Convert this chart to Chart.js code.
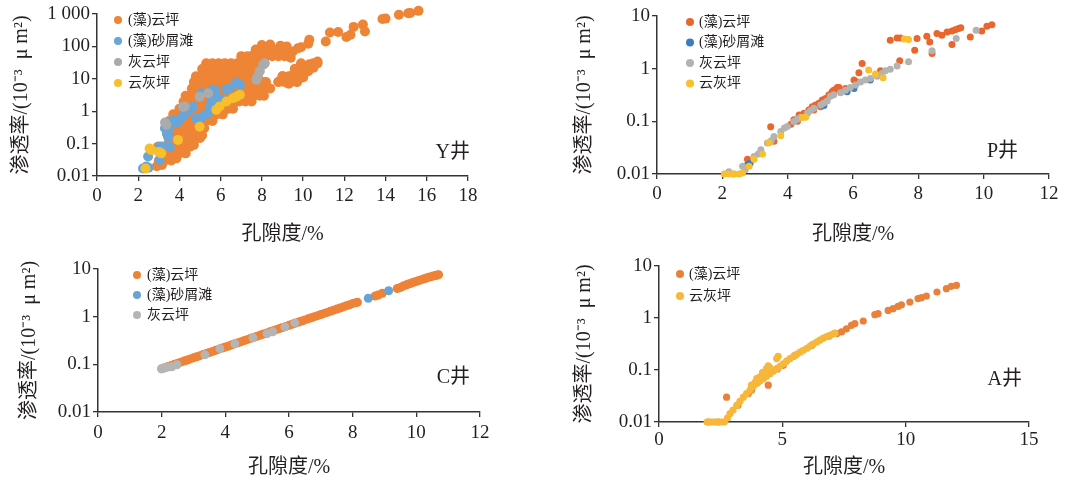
<!DOCTYPE html>
<html>
<head>
<meta charset="utf-8">
<script src="https://cdn.jsdelivr.net/npm/chart.js@4.4.1/dist/chart.umd.min.js"></script>
<style>
body { margin: 0; background: #fff; width: 1065px; height: 481px; position: relative; overflow: hidden; }
canvas { position: absolute; }
</style>
</head>
<body>
<canvas id="grafico-y" width="530" height="250" style="left:0;top:0"></canvas>
<canvas id="grafico-p" width="535" height="250" style="left:530px;top:0"></canvas>
<canvas id="grafico-c" width="530" height="231" style="left:0;top:250px"></canvas>
<canvas id="grafico-a" width="535" height="231" style="left:530px;top:250px"></canvas>
<script>
// nomes das fácies
const facies = ['(藻)云坪', '(藻)砂屑滩', '灰云坪', '云灰坪'];

// eixos
const ticksLog6 = [0.01, 0.1, 1, 10, 100, 1000];
const rotulosLog6 = ['0.01', '0.1', '1', '10', '100', '1 000'];
const ticksLog4 = [0.01, 0.1, 1, 10];
const rotulosLog4 = ['0.01', '0.1', '1', '10'];
const tituloX = '孔隙度/%';
const tituloY = '渗透率/(10⁻³  μ m²)';

// ---- Y井 ----
const yOrange = [
    [15.6, 1250], [15.2, 1070], [15.1, 1050], [14.65, 950], [14.0, 720], [13.85, 700], [12.9, 470], [13.0, 290],
    [12.45, 400], [12.3, 230], [12.1, 195], [11.7, 280], [11.3, 270], [11.1, 142], [10.3, 160], [10.25, 120],
    [9.9, 94], [9.75, 88],
    [9.9, 19], [10.2, 24], [10.5, 30], [10.7, 34], [10.25, 17], [9.6, 20], [9.4, 12], [9.1, 9], [8.8, 8],
    [9.3, 7], [9.6, 9.5], [9.0, 12], [9.7, 8], [10.0, 11],
    [8.0, 110], [8.4, 115], [8.9, 105], [9.2, 100],
    [7.7, 80], [8.0, 80], [8.3, 85], [8.6, 80], [8.9, 80], [9.2, 75], [9.5, 70],
    [7.0, 50], [7.3, 50], [7.6, 55], [7.9, 50], [8.2, 50], [8.5, 50], [8.8, 50], [9.1, 50], [9.4, 45],
    [5.3, 30], [5.6, 30], [5.9, 30], [6.2, 30], [6.5, 30], [6.8, 30], [7.1, 30], [7.4, 30], [7.7, 30], [8.0, 30],
    [9.9, 30], [10.3, 28], [10.7, 30],
    [5.1, 20], [5.4, 20], [5.7, 20], [6.0, 20], [6.3, 20], [6.6, 20], [6.9, 20], [7.2, 20], [7.5, 20], [7.7, 20],
    [9.6, 20], [9.9, 19], [10.2, 20], [10.5, 22],
    [4.8, 12], [5.1, 12], [5.4, 12], [5.7, 12], [6.0, 12], [6.3, 12], [6.6, 12], [6.9, 12], [7.2, 12], [7.5, 12],
    [7.8, 12], [9.0, 12], [9.3, 12], [9.6, 12], [10.0, 12],
    [4.7, 8], [5.0, 8], [5.3, 8], [5.6, 8], [5.9, 8], [6.2, 8], [6.5, 8], [6.8, 8], [7.1, 8], [7.4, 8], [7.7, 8],
    [8.0, 8], [8.2, 8], [8.8, 8], [9.1, 8], [9.4, 8], [9.7, 8],
    [4.6, 5], [4.9, 5], [5.2, 5], [5.5, 5], [5.8, 5], [6.1, 5], [6.4, 5], [6.7, 5], [7.0, 5], [7.3, 5], [7.6, 5],
    [7.9, 5], [8.2, 5], [8.4, 5],
    [4.3, 3], [4.6, 3], [4.9, 3], [5.2, 3], [5.5, 3], [5.8, 3], [6.1, 3], [6.4, 3], [6.7, 3], [7.0, 3], [7.3, 3],
    [7.6, 3], [7.9, 3], [8.1, 3],
    [4.2, 2], [4.5, 2], [4.8, 2], [5.1, 2], [5.4, 2], [5.7, 2], [6.0, 2], [6.3, 2], [6.6, 2], [6.9, 2], [7.2, 2], [7.5, 2],
    [4.0, 1.2], [4.3, 1.2], [4.6, 1.2], [4.9, 1.2], [5.2, 1.2], [5.5, 1.2], [5.8, 1.2], [6.1, 1.2], [6.4, 1.2], [6.6, 1.2],
    [3.7, 0.8], [4.0, 0.8], [4.3, 0.8], [4.6, 0.8], [4.9, 0.8], [5.2, 0.8], [5.5, 0.8], [5.8, 0.8], [6.1, 0.8],
    [3.5, 0.5], [3.8, 0.5], [4.1, 0.5], [4.4, 0.5], [4.7, 0.5], [5.0, 0.5], [5.3, 0.5], [5.6, 0.5],
    [3.7, 0.3], [4.0, 0.3], [4.3, 0.3], [4.6, 0.3], [4.9, 0.3], [5.2, 0.3],
    [3.4, 0.2], [3.7, 0.2], [4.0, 0.2], [4.3, 0.2], [4.6, 0.2], [4.9, 0.2], [5.1, 0.18],
    [3.5, 0.12], [3.8, 0.12], [4.1, 0.12], [4.4, 0.12], [4.7, 0.12], [5.0, 0.15],
    [2.95, 0.08], [3.6, 0.08], [3.9, 0.08], [4.2, 0.08], [4.5, 0.08], [4.7, 0.09],
    [3.4, 0.05], [3.7, 0.05], [4.0, 0.05], [4.3, 0.05],
    [3.0, 0.03], [3.3, 0.03], [3.6, 0.03], [3.85, 0.035],
    [2.9, 0.02], [3.15, 0.022]
];
const yBlue = [
    [2.23, 0.017], [2.39, 0.0195], [2.5, 0.018], [2.48, 0.04], [3.04, 0.081], [3.2, 0.081], [3.04, 0.031],
    [3.53, 0.08], [3.4, 0.2], [3.5, 0.26], [3.45, 0.16], [3.3, 0.3], [3.69, 0.54], [3.85, 0.43], [4.01, 0.54],
    [4.17, 0.69], [4.42, 0.98], [4.5, 1.23], [4.66, 1.38], [4.8, 0.6], [4.9, 0.54], [5.06, 0.62], [5.23, 0.77],
    [5.39, 0.86], [5.47, 1.38], [5.55, 2.0], [5.79, 2.8], [6.04, 2.2], [5.06, 3.6], [5.47, 4.1], [5.71, 4.6],
    [6.28, 4.6], [6.44, 5.2], [6.76, 7.4], [6.93, 6.6]
];
const yGray = [
    [3.37, 0.38], [3.3, 0.45], [4.17, 1.38], [4.26, 1.4], [4.98, 2.8], [5.39, 3.6], [7.73, 9.3], [7.8, 12],
    [7.9, 17], [8.06, 27], [8.14, 30]
];
const yYellow = [
    [2.35, 0.017], [2.55, 0.07], [2.64, 0.063], [3.0, 0.055], [3.12, 0.05], [3.93, 0.13], [4.98, 0.33],
    [5.79, 1.1], [5.95, 1.4], [6.28, 2.0], [6.6, 2.5], [6.76, 2.8], [6.93, 3.2]
];

// ---- P井 ----
const pOrange = [
    [7.14, 3.47], [7.35, 3.84], [7.45, 3.84], [7.96, 3.73], [8.26, 4.13], [8.35, 3.22], [8.57, 4.64], [8.72, 4.32],
    [8.88, 4.99], [9.03, 5.2], [9.13, 5.5], [9.23, 5.76], [9.3, 6.0], [9.03, 2.87], [9.59, 4.0], [9.94, 5.2],
    [10.1, 6.4], [10.25, 6.85], [7.89, 2.24], [8.42, 1.94], [7.43, 1.41], [6.28, 1.26], [6.18, 0.84], [6.84, 0.91],
    [5.52, 0.44], [5.41, 0.39], [5.77, 0.42], [6.03, 0.61], [6.13, 0.56],
    [4.19, 0.107], [4.35, 0.132], [4.5, 0.143], [4.65, 0.165], [4.75, 0.19], [4.85, 0.205], [4.96, 0.22],
    [5.06, 0.255], [5.16, 0.27], [5.26, 0.316], [5.36, 0.366], [5.47, 0.4], [5.57, 0.44], [5.01, 0.19],
    [4.8, 0.165], [4.6, 0.143], [3.58, 0.042], [4.1, 0.088], [4.3, 0.1],
    [3.48, 0.079], [2.77, 0.019]
];
const pBlue = [
    [2.77, 0.015], [2.85, 0.016], [5.06, 0.205], [5.11, 0.2], [5.82, 0.366], [6.03, 0.42], [6.53, 0.61], [6.75, 0.75]
];
const pGray = [
    [2.2, 0.011], [2.35, 0.01], [2.62, 0.014], [2.7, 0.012], [2.97, 0.0216], [3.1, 0.024], [3.18, 0.029],
    [3.38, 0.0386], [3.5, 0.043], [3.58, 0.0517], [3.79, 0.064], [3.9, 0.075], [3.99, 0.08], [4.19, 0.099],
    [4.3, 0.11], [4.4, 0.12], [4.6, 0.143], [4.7, 0.16], [4.8, 0.177], [5.01, 0.205], [5.1, 0.22], [5.21, 0.244],
    [5.31, 0.3], [5.41, 0.32], [5.62, 0.35], [5.77, 0.39], [5.92, 0.44], [6.08, 0.49], [6.23, 0.56], [6.38, 0.61],
    [6.53, 0.65], [6.74, 0.72], [6.89, 0.81], [6.99, 0.91], [7.14, 0.97], [7.35, 1.12], [7.7, 1.35],
    [8.42, 2.18], [9.16, 3.73], [9.77, 5.36]
];
const pYellow = [
    [2.06, 0.01], [2.21, 0.01], [2.36, 0.01], [2.51, 0.01], [2.62, 0.0105], [2.82, 0.014], [2.97, 0.019],
    [3.23, 0.024], [3.43, 0.039], [3.79, 0.053], [4.45, 0.118], [4.55, 0.12], [6.48, 0.94], [6.69, 0.79],
    [6.92, 0.67], [7.57, 3.67], [7.7, 3.57]
];

// ---- C井 ----
const cOrange = [
    [2.0, 0.081], [2.1, 0.085], [2.2, 0.09], [2.3, 0.095], [2.4, 0.1], [2.5, 0.105], [2.6, 0.111], [2.7, 0.117],
    [2.8, 0.123], [2.9, 0.13], [3.0, 0.137], [3.1, 0.144], [3.2, 0.152], [3.3, 0.16], [3.4, 0.168], [3.5, 0.177],
    [3.6, 0.187], [3.7, 0.197], [3.8, 0.208], [3.9, 0.219], [4.0, 0.231], [4.1, 0.243], [4.2, 0.256], [4.3, 0.27],
    [4.4, 0.284], [4.5, 0.299], [4.6, 0.316], [4.7, 0.333], [4.8, 0.351], [4.9, 0.37], [5.0, 0.39], [5.1, 0.411],
    [5.2, 0.433], [5.3, 0.456], [5.4, 0.48], [5.5, 0.506], [5.6, 0.533], [5.7, 0.562], [5.8, 0.592], [5.9, 0.624],
    [6.0, 0.658], [6.1, 0.693], [6.2, 0.73], [6.3, 0.769], [6.4, 0.811], [6.5, 0.855], [6.6, 0.901], [6.7, 0.949],
    [6.8, 1.0], [6.9, 1.05], [7.0, 1.11], [7.1, 1.17], [7.2, 1.23], [7.3, 1.3], [7.4, 1.37], [7.5, 1.44],
    [7.6, 1.52], [7.7, 1.6], [7.8, 1.69], [7.9, 1.78], [8.0, 1.88], [8.1, 1.97], [8.15, 2.0],
    [8.7, 2.7], [8.8, 2.85], [8.93, 3.1], [9.4, 3.9], [9.5, 4.1], [9.59, 4.4], [9.67, 4.6], [9.75, 4.85],
    [9.83, 5.0], [9.91, 5.26], [9.99, 5.45], [10.06, 5.7], [10.14, 5.9], [10.22, 6.17], [10.3, 6.4],
    [10.38, 6.7], [10.46, 6.9], [10.53, 7.13], [10.6, 7.3], [10.66, 7.48], [10.7, 7.6]
];
const cBlue = [[8.49, 2.43], [9.13, 3.5]];
const cGray = [
    [2.0, 0.081], [2.1, 0.085], [2.2, 0.088], [2.32, 0.089], [2.48, 0.098], [3.36, 0.158], [3.83, 0.213],
    [4.3, 0.27], [4.87, 0.36], [5.31, 0.44], [5.49, 0.48], [5.87, 0.61], [6.18, 0.74]
];

// ---- A井 ----
const aOrange = [
    [2.74, 0.03], [4.43, 0.051], [3.62, 0.035], [3.75, 0.041], [5.04, 0.123],
    [7.2, 0.5], [7.4, 0.54], [7.6, 0.62], [7.8, 0.72], [7.94, 0.78], [8.28, 0.875], [8.75, 1.16], [8.88, 1.21],
    [9.29, 1.4], [9.49, 1.51], [9.69, 1.67], [9.83, 1.8], [10.17, 2.03], [10.5, 2.36], [10.64, 2.46], [10.84, 2.65],
    [11.27, 3.16], [11.65, 3.66], [11.85, 4.06], [12.06, 4.25],
    [2.0, 0.01], [2.4, 0.01], [3.2, 0.021], [4.0, 0.058], [4.8, 0.105], [5.5, 0.19], [6.2, 0.3], [6.9, 0.45]
];
const aYellow = [
    [1.95, 0.01], [2.05, 0.01], [2.15, 0.01], [2.25, 0.01], [2.35, 0.01], [2.45, 0.01], [2.55, 0.01], [2.65, 0.01],
    [2.78, 0.012], [2.88, 0.0145], [3.0, 0.017], [3.15, 0.021], [3.28, 0.025], [3.42, 0.03], [3.55, 0.035],
    [3.69, 0.041], [3.82, 0.048], [3.96, 0.055], [4.1, 0.062], [4.23, 0.068], [4.36, 0.076], [4.5, 0.085],
    [4.63, 0.095], [4.77, 0.106], [4.9, 0.118], [5.04, 0.132], [5.17, 0.148], [5.31, 0.166], [5.45, 0.182],
    [5.58, 0.2], [5.72, 0.22], [5.85, 0.24], [6.0, 0.262], [6.12, 0.285], [6.25, 0.315], [6.39, 0.345],
    [6.52, 0.375], [6.66, 0.41], [6.8, 0.44], [6.93, 0.465], [7.05, 0.49], [7.13, 0.51],
    [3.75, 0.051], [3.9, 0.058], [3.96, 0.068], [4.09, 0.074], [4.2, 0.09], [4.23, 0.086], [4.36, 0.106],
    [4.43, 0.12], [4.5, 0.11], [4.77, 0.166], [4.83, 0.183]
];

const fonteSerif = '"Liberation Serif", "Noto Sans CJK SC", serif';
const corTexto = '#231f20';

// legenda dentro da área do gráfico + nome do poço
const legendaInterna = {
    id: 'legendaInterna',
    afterDraw(chart, args, opts) {
        const ctx = chart.ctx;
        ctx.save();
        ctx.textBaseline = 'middle';
        ctx.font = '14px ' + fonteSerif;
        chart.data.datasets.forEach((ds, i) => {
            const y = opts.y + i * opts.gap;
            ctx.fillStyle = ds.backgroundColor;
            ctx.beginPath();
            ctx.arc(opts.x, y, opts.r, 0, Math.PI * 2);
            ctx.fill();
            ctx.fillStyle = corTexto;
            ctx.textAlign = 'left';
            ctx.fillText(ds.label, opts.x + opts.dx, y);
        });
        ctx.font = '20px ' + fonteSerif;
        ctx.textAlign = 'right';
        ctx.fillStyle = corTexto;
        ctx.fillText(opts.poco, opts.px, opts.py);
        ctx.restore();
    }
};

function montarGrafico(id, cfg) {
    const ctx = document.getElementById(id).getContext('2d');
    return new Chart(ctx, {
        type: 'scatter',
        data: {
            datasets: cfg.series.map(s => ({
                label: s.label,
                data: s.data.map(p => ({ x: p[0], y: p[1] })),
                backgroundColor: s.cor,
                borderWidth: 0,
                pointRadius: cfg.raio,
                pointHoverRadius: cfg.raio,
                clip: false,
                order: s.ordem
            }))
        },
        options: {
            responsive: false,
            animation: false,
            events: [],
            layout: { padding: { left: 0, top: cfg.topo, right: cfg.direita, bottom: 0 } },
            plugins: {
                legend: { display: false },
                tooltip: { enabled: false },
                legendaInterna: cfg.legenda
            },
            scales: {
                x: {
                    type: 'linear',
                    min: 0,
                    max: cfg.xMax,
                    afterFit: s => { s.height = cfg.alturaX; },
                    ticks: { stepSize: cfg.xPasso, color: corTexto, font: { family: fonteSerif, size: 19 }, padding: cfg.padTickX, maxRotation: 0 },
                    grid: { drawOnChartArea: false, drawTicks: true, tickLength: 5, color: '#333', lineWidth: 1.3 },
                    border: { color: '#333', width: 1.5 },
                    title: { display: true, text: tituloX, color: corTexto, font: { family: fonteSerif, size: 20 }, padding: { top: 0, bottom: cfg.padTituloX } }
                },
                y: {
                    type: 'logarithmic',
                    min: cfg.yTicks[0],
                    max: cfg.yTicks[cfg.yTicks.length - 1],
                    afterFit: s => { s.width = cfg.larguraY; },
                    afterBuildTicks: s => { s.ticks = cfg.yTicks.map(v => ({ value: v })); },
                    ticks: {
                        autoSkip: false,
                        color: corTexto,
                        font: { family: fonteSerif, size: 19 },
                        padding: 2,
                        callback: (v, i) => cfg.yRotulos[i]
                    },
                    grid: { drawOnChartArea: false, drawTicks: true, tickLength: 5, color: '#333', lineWidth: 1.3 },
                    border: { color: '#333', width: 1.5 },
                    title: { display: true, text: tituloY, color: corTexto, font: { family: fonteSerif, size: 20 }, padding: { top: cfg.padTituloY, bottom: 0 } }
                }
            }
        },
        plugins: [legendaInterna]
    });
}

montarGrafico('grafico-y', {
    series: [
        { label: facies[0], data: yOrange, cor: '#EE8435', ordem: 4 },
        { label: facies[1], data: yBlue, cor: '#6AA5D9', ordem: 3 },
        { label: facies[2], data: yGray, cor: '#ABABAB', ordem: 1 },
        { label: facies[3], data: yYellow, cor: '#F8BE2C', ordem: 2 }
    ],
    raio: 5, xMax: 18, xPasso: 2, yTicks: ticksLog6, yRotulos: rotulosLog6,
    topo: 14, direita: 62, larguraY: 97, alturaX: 74, padTickX: 4, padTituloX: 3, padTituloY: 10,
    legenda: { x: 118, y: 20, gap: 21, r: 4, dx: 10, poco: 'Y井', px: 470, py: 153 }
});

montarGrafico('grafico-p', {
    series: [
        { label: facies[0], data: pOrange, cor: '#E9662C', ordem: 4 },
        { label: facies[1], data: pBlue, cor: '#3C7DC0', ordem: 3 },
        { label: facies[2], data: pGray, cor: '#B3B3B3', ordem: 2 },
        { label: facies[3], data: pYellow, cor: '#F8BF2E', ordem: 1 }
    ],
    raio: 3.5, xMax: 12, xPasso: 2, yTicks: ticksLog4, yRotulos: rotulosLog4,
    topo: 16, direita: 16, larguraY: 127, alturaX: 76, padTickX: 4, padTituloX: 3, padTituloY: 43,
    legenda: { x: 160, y: 22, gap: 20.5, r: 4, dx: 9, poco: 'P井', px: 488, py: 152 }
});

montarGrafico('grafico-c', {
    series: [
        { label: facies[0], data: cOrange, cor: '#EE8236', ordem: 3 },
        { label: facies[1], data: cBlue, cor: '#69A3D6', ordem: 1 },
        { label: facies[2], data: cGray, cor: '#B5B5B5', ordem: 2 }
    ],
    raio: 4.5, xMax: 12, xPasso: 2, yTicks: ticksLog4, yRotulos: rotulosLog4,
    topo: 19, direita: 50, larguraY: 98, alturaX: 69, padTickX: 5, padTituloX: 1, padTituloY: 18,
    legenda: { x: 137, y: 25, gap: 20, r: 4, dx: 10, poco: 'C井', px: 470, py: 128 }
});

montarGrafico('grafico-a', {
    series: [
        { label: facies[0], data: aOrange, cor: '#E9813A', ordem: 2 },
        { label: facies[3], data: aYellow, cor: '#F6B73A', ordem: 1 }
    ],
    raio: 3.6, xMax: 15, xPasso: 5, yTicks: ticksLog4, yRotulos: rotulosLog4,
    topo: 16, direita: 36, larguraY: 129, alturaX: 59, padTickX: 2, padTituloX: 1, padTituloY: 43,
    legenda: { x: 150, y: 24, gap: 22, r: 4, dx: 9, poco: 'A井', px: 492, py: 130 }
});
</script>
</body>
</html>
